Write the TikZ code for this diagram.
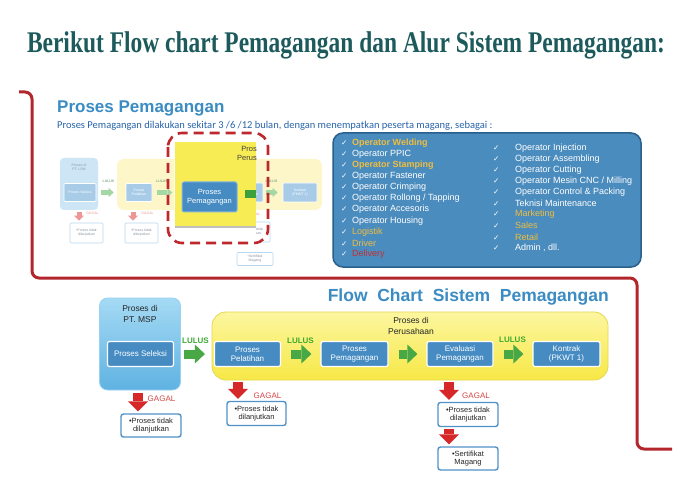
\documentclass[tikz,border=0pt]{standalone}
\usepackage{fontspec}
\setmainfont{Liberation Sans}
\newfontfamily\titlefont{Liberation Serif}
\newfontfamily\subfont{Carlito}
\newfontfamily\symfont{DejaVu Sans}
\usepackage{graphicx}
\usepackage{xcolor}
\usetikzlibrary{positioning,arrows.meta,calc}
\definecolor{TitleTeal}{RGB}{28,90,92}
\definecolor{HeadBlue}{RGB}{58,140,195}
\definecolor{SubBlue}{RGB}{40,100,170}
\definecolor{RedLine}{RGB}{178,38,44}
\definecolor{PanelBlue}{RGB}{75,140,190}
\definecolor{PanelEdge}{RGB}{40,95,140}
\definecolor{ListGold}{RGB}{240,190,60}
\definecolor{ListRed}{RGB}{200,45,45}
\definecolor{ProcBlue}{RGB}{70,140,195}
\definecolor{ProcEdge}{RGB}{130,180,220}
\definecolor{NoteBlue}{RGB}{80,145,200}
\definecolor{MspTop}{RGB}{165,218,244}
\definecolor{MspBot}{RGB}{95,178,226}
\definecolor{PerusTop}{RGB}{252,246,160}
\definecolor{PerusYellow}{RGB}{247,232,70}
\definecolor{PerusEdge}{RGB}{232,214,80}
\definecolor{PassGreen}{RGB}{72,168,70}
\definecolor{FailRed}{RGB}{214,40,40}
\definecolor{GagalRed}{RGB}{210,70,70}
\definecolor{LulusGreen}{RGB}{60,170,50}
\definecolor{FadeBlue}{RGB}{205,230,246}
\definecolor{FadeProc}{RGB}{168,204,232}
\definecolor{FadeYellow}{RGB}{252,246,200}
\definecolor{FadeGreen}{RGB}{165,215,165}
\definecolor{FadeRed}{RGB}{236,150,150}
\definecolor{FadeEdge}{RGB}{185,215,238}
\definecolor{FadeText}{RGB}{140,150,165}
\definecolor{SquareYellow}{RGB}{248,236,85}
\definecolor{SqGreen}{RGB}{60,160,60}
\definecolor{DashRed}{RGB}{190,40,45}
\newcommand{\lchk}{\makebox[11pt][l]{\symfont\fontsize{7.5}{7.5}\selectfont ✓}}
\newcommand{\rchk}{\makebox[22pt][l]{\symfont\fontsize{7.5}{7.5}\selectfont ✓}}

\begin{document}
\begin{tikzpicture}[x=1pt,y=-1pt,
stepbox/.style={rectangle,rounded corners=2pt,fill=ProcBlue,draw=white,line width=1.2pt,text=white,font=\fontsize{8}{9}\selectfont,align=center,inner sep=1pt,minimum width=66pt,minimum height=25pt},
notebox/.style={rectangle,rounded corners=2.5pt,fill=white,draw=NoteBlue,line width=1.4pt,font=\fontsize{7.5}{8.5}\selectfont,align=center,inner sep=1pt,minimum width=60pt,minimum height=23pt,text=black!85},
passarrow/.style={line width=9pt,PassGreen,shorten <=10pt,shorten >=9pt,-{Triangle[length=10pt,width=19pt,line width=0pt]}},
failarrow/.style={line width=10pt,FailRed,-{Triangle[length=10pt,width=20pt,line width=0pt]}},
lulus/.style={font=\fontsize{8}{8}\selectfont\bfseries,text=LulusGreen,inner sep=0pt},
gagal/.style={font=\fontsize{8}{8}\selectfont,text=GagalRed,inner sep=0pt},
boxtitle/.style={font=\fontsize{8.5}{11}\selectfont,text=black!85,align=center,inner sep=0pt},
item/.style={anchor=west,inner sep=0pt,text=white,font=\fontsize{9}{9}\selectfont},
fbox/.style={rectangle,rounded corners=4pt,fill=FadeBlue,draw=none},
fproc/.style={rectangle,rounded corners=1pt,fill=FadeProc,draw=white,line width=0.6pt,text=white,font=\fontsize{3.5}{4}\selectfont,align=center,inner sep=0.5pt},
fnote/.style={rectangle,rounded corners=1pt,fill=white,draw=FadeEdge,line width=0.7pt,font=\fontsize{3.5}{4}\selectfont,align=center,text=FadeText,inner sep=0.5pt},
fpass/.style={line width=4.5pt,FadeGreen,-{Triangle[length=5pt,width=9pt,line width=0pt]}},
ffail/.style={line width=5pt,FadeRed,-{Triangle[length=5pt,width=10pt,line width=0pt]}},
ftxt/.style={font=\fontsize{3.5}{4}\selectfont,text=FadeText,inner sep=0pt,align=center}
]
\useasboundingbox (0,0) rectangle (686,492);
\fill[white] (0,0) rectangle (686,492);
% title
\node[anchor=base,text=TitleTeal,inner sep=0pt] (title) at (346,53) {\resizebox{638pt}{\height}{\titlefont\bfseries\fontsize{30}{30}\selectfont Berikut Flow chart Pemagangan dan Alur Sistem Pemagangan:}};
% red bracket
\draw[RedLine,line width=3pt,rounded corners=7pt] (19,92) -- (32,92) -- (32,278) -- (637,278) -- (637,449) -- (672,449);
% proses pemagangan heading
\node[anchor=base west,inner sep=0pt,text=HeadBlue,font=\fontsize{17}{17}\selectfont\bfseries] (head) at (57,113) {Proses Pemagangan};
\node[anchor=base west,inner sep=0pt,text=SubBlue,font=\subfont\fontsize{10.5}{10.5}\selectfont] (sub) at (57,129) {Proses Pemagangan dilakukan sekitar 3 /6 /12 bulan, dengan menempatkan peserta magang, sebagai :};
% faded old chart
\node[fbox,minimum width=38pt,minimum height=52pt] (fmsp) at (79,184) {};
\node[ftxt] (fmsptitle) at (79,167.5) {Proses di\\PT. LSM};
\node[fproc,minimum width=32pt,minimum height=18pt] (fselek) at (80,192.5) {Proses Seleksi};
\node[fbox,fill=FadeYellow,rounded corners=7pt,minimum width=205pt,minimum height=51pt] (fperus) at (219.5,184.5) {};
\node[fproc,minimum width=26pt,minimum height=18pt] (fpelat) at (139,192.5) {Proses\\Pelatihan};
\node[fproc,minimum width=30pt,minimum height=19pt] (feval) at (248,192.5) {Evaluasi\\Pemagangan};
\node[fproc,minimum width=34pt,minimum height=19pt] (fkontr) at (300,192.5) {Kontrak\\(PKWT 1)};
\draw[fpass,shorten <=5pt,shorten >=12pt] (fselek) -- (fpelat);
\draw[fpass,shorten <=5pt] (fpelat.east) -- ++(20,0);
\draw[fpass,shorten <=3pt,shorten >=5pt] (feval) -- (fkontr);
\node[ftxt,text=FadeGreen!80!black] (flulus1) at (108.5,181.5) {\bfseries LULUS};
\node[ftxt,text=FadeGreen!80!black] (flulus2) at (162,181.5) {\bfseries LULUS};
\node[ftxt,text=FadeGreen!80!black] (flulus3) at (271.5,181) {\bfseries LULUS};
\node[fnote,minimum width=33pt,minimum height=20pt] (fnote1) at (86.5,233) {•Proses tidak\\dilanjutkan};
\node[fnote,minimum width=33pt,minimum height=20pt] (fnote2) at (141.5,233) {•Proses tidak\\dilanjutkan};
\node[fnote,minimum width=34pt,minimum height=20pt] (fnote3) at (253,232) {•Proses tidak\\dilanjutkan};
\node[fnote,minimum width=36pt,minimum height=13pt] (fsert) at (255,259) {•Sertifikat\\Magang};
\coordinate (fdrop2) at ([xshift=-6pt]fpelat.south);
\draw[ffail,shorten <=2pt,shorten >=2pt] (fmsp.south) -- (fmsp.south |- fnote1.north);
\draw[ffail,shorten <=2pt,shorten >=2pt] (fdrop2 |- fperus.south) -- (fdrop2 |- fnote2.north);
\node[ftxt,text=FadeRed] (fgagal1) at (92.5,213.5) {GAGAL};
\node[ftxt,text=FadeRed] (fgagal2) at (147.5,213.5) {GAGAL};
\node[ftxt,text=FadeRed] (fgagal3) at (254,214) {GAGAL};
% highlighted step
\fill[white] (174,134) rectangle (256,250);
\node[rectangle,fill=SquareYellow,minimum width=81pt,minimum height=85pt,inner sep=0pt] (sq) at (215.5,184.5) {};
\draw[black!25,line width=1.5pt] (sq.south west) -- (sq.south east);
\node[anchor=north east,inner sep=0pt,align=right,font=\fontsize{7.5}{9.5}\selectfont,text=black!75] (sqtitle) at (257,146) {Pros\\Perus};
\node[stepbox,draw=ProcEdge,line width=1pt,minimum width=55pt,minimum height=30pt,font=\fontsize{7.5}{9}\selectfont] (sqproc) at (209.5,197) {Proses\\Pemagangan};
\fill[SqGreen] (245,190) rectangle (256,198);
\draw[DashRed,line width=2.6pt,dash pattern=on 10pt off 6pt,rounded corners=14pt] (168,133) rectangle (268,243);
% placement list
\node[rectangle,rounded corners=10pt,fill=PanelBlue,draw=PanelEdge,line width=1.5pt,minimum width=308pt,minimum height=134pt] (panel) at (487,200) {};
\node[item] (l1) at (341,143) {\lchk\textcolor{ListGold}{\bfseries Operator Welding}};
\node[item] (l2) at (341,154.1) {\lchk Operator PPIC};
\node[item] (l3) at (341,165.2) {\lchk\textcolor{ListGold}{\bfseries Operator Stamping}};
\node[item] (l4) at (341,176.3) {\lchk Operator Fastener};
\node[item] (l5) at (341,187.4) {\lchk Operator Crimping};
\node[item] (l6) at (341,198.5) {\lchk Operator Rollong / Tapping};
\node[item] (l7) at (341,209.6) {\lchk Operator Accesoris};
\node[item] (l8) at (341,220.7) {\lchk Operator Housing};
\node[item] (l9) at (341,231.8) {\lchk\textcolor{ListGold}{Logistik}};
\node[item] (l10) at (341,242.9) {\lchk\textcolor{ListGold}{Driver}};
\node[item] (l11) at (341,254) {\lchk\textcolor{ListRed}{Delivery}};
\node[item] (r1) at (493,148) {\rchk Operator Injection};
\node[item] (r2) at (493,159.1) {\rchk Operator Assembling};
\node[item] (r3) at (493,170.2) {\rchk Operator Cutting};
\node[item] (r4) at (493,181.3) {\rchk Operator Mesin CNC / Milling};
\node[item] (r5) at (493,192.4) {\rchk Operator Control \& Packing};
\node[item] (r6) at (493,203.5) {\rchk Teknisi Maintenance};
\node[item] (r7) at (493,214.6) {\rchk\textcolor{ListGold}{Marketing}};
\node[item] (r8) at (493,225.7) {\rchk\textcolor{ListGold}{Sales}};
\node[item] (r9) at (493,236.8) {\rchk\textcolor{ListGold}{Retail}};
\node[item] (r10) at (493,247.9) {\rchk Admin , dll.};
% flow chart sistem pemagangan
\node[anchor=east,inner sep=0pt,text=HeadBlue,font=\fontsize{17.5}{17.5}\selectfont\bfseries] (flowhead) at (609,297) {Flow~ Chart~ Sistem~ Pemagangan};
\node[rectangle,rounded corners=8pt,top color=MspTop,bottom color=MspBot,draw=MspTop!80!MspBot,line width=0.8pt,minimum width=81pt,minimum height=92pt] (msp) at (140,344) {};
\node[boxtitle] (msptitle) at (140,313.5) {Proses di\\PT. MSP};
\node[stepbox] (selek) at (140.5,354) {Proses Seleksi};
\node[rectangle,rounded corners=14pt,top color=PerusTop,bottom color=PerusYellow,draw=PerusEdge,line width=0.8pt,minimum width=396pt,minimum height=68pt] (perus) at (410,346) {};
\node[boxtitle] (perustitle) at (411,325.5) {Proses di\\Perusahaan};
\node[stepbox] (pelat) at (247.5,354) {Proses\\Pelatihan};
\node[stepbox,minimum width=67pt] (pemag) at (354.5,354) {Proses\\Pemagangan};
\node[stepbox] (evalu) at (460,354) {Evaluasi\\Pemagangan};
\node[stepbox,minimum width=67pt] (kontr) at (566.5,354) {Kontrak\\(PKWT 1)};
\draw[passarrow] (selek) -- (pelat);
\draw[passarrow] (pelat) -- (pemag);
\draw[passarrow] (pemag) -- (evalu);
\draw[passarrow] (evalu) -- (kontr);
\node[lulus] (lulus1) at (195.5,340.5) {LULUS};
\node[lulus] (lulus2) at (300.5,341) {LULUS};
\node[lulus] (lulus3) at (512.5,339.5) {LULUS};
\node[notebox] (note1) at (151,425.5) {•Proses tidak\\dilanjutkan};
\node[notebox,minimum width=59pt,minimum height=24pt] (note2) at (256.5,413.5) {•Proses tidak\\dilanjutkan};
\node[notebox,minimum height=24pt] (note3) at (468,414.5) {•Proses tidak\\dilanjutkan};
\node[notebox] (sert) at (468,458.5) {•Sertifikat\\Magang};
\coordinate (drop1) at ([xshift=-2pt]msp.south);
\coordinate (drop2) at ([xshift=-9.5pt]pelat.south);
\coordinate (drop3) at ([xshift=-11pt]evalu.south);
\draw[failarrow,shorten <=3pt,shorten >=2pt] (drop1) -- (drop1 |- note1.north);
\draw[failarrow,shorten <=2pt,shorten >=2pt] (drop2 |- perus.south) -- (drop2 |- note2.north);
\draw[failarrow,shorten <=2pt,shorten >=2pt] (drop3 |- perus.south) -- (drop3 |- note3.north);
\draw[failarrow,shorten <=2pt,shorten >=2pt] (drop3 |- note3.south) -- (drop3 |- sert.north);
\node[gagal] (gagal1) at (161.5,399) {GAGAL};
\node[gagal] (gagal2) at (267.5,395.5) {GAGAL};
\node[gagal] (gagal3) at (476,395.5) {GAGAL};
\end{tikzpicture}
\end{document}
